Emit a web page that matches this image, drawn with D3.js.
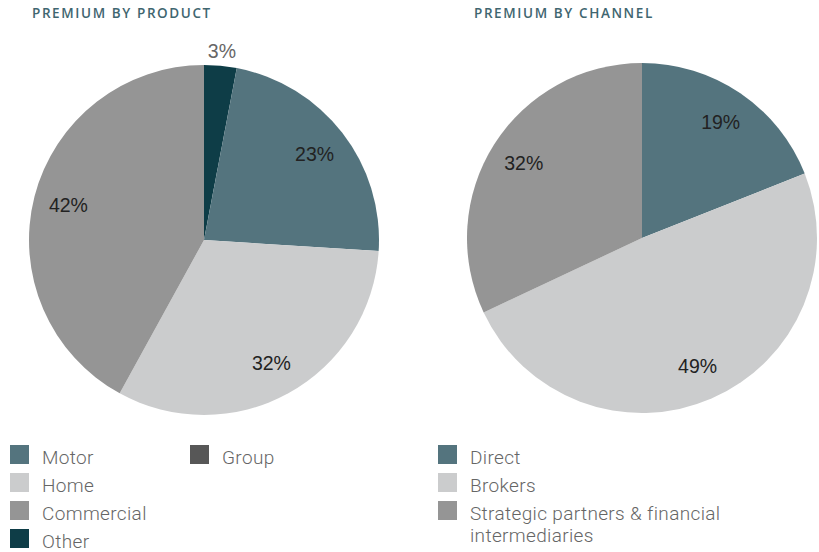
<!DOCTYPE html>
<html>
<head>
<meta charset="utf-8">
<script src="https://cdn.jsdelivr.net/npm/d3@7"></script>
<style>
  body { margin: 0; background: #fff; }
  .title { font-family: "Open Sans", sans-serif; font-weight: 600; font-size: 13.5px; letter-spacing: 1.6px; fill: #3f6670; }
  .pct { font-family: "Liberation Sans", Arial, sans-serif; font-size: 19.5px; fill: #222; }
  .leg { font-family: Roboto, sans-serif; font-weight: 300; font-size: 19px; letter-spacing: 0.35px; fill: #666; }
</style>
</head>
<body>
<svg id="chart" width="819" height="552"></svg>
<script>
// pie slices, clockwise from 12 o'clock
const productNames = ["Other", "Motor", "Home", "Commercial"];
const productValues = [3, 23, 32, 42];
const channelNames = ["Direct", "Brokers", "Strategic partners & financial intermediaries"];
const channelValues = [19, 49, 32];

// legend entries
const productLegend = ["Motor", "Home", "Commercial", "Other", "Group"];
const channelLegend = ["Direct", "Brokers", "Strategic partners & financial intermediaries"];

const colors = {
  "Motor": "#54747e",
  "Home": "#cbcccd",
  "Commercial": "#959595",
  "Other": "#0e3d47",
  "Group": "#575757",
  "Direct": "#54747e",
  "Brokers": "#cbcccd",
  "Strategic partners & financial intermediaries": "#959595"
};

const svg = d3.select("#chart");
const radius = 175;

function drawPie(cx, cy, names, values, title, titleX) {
  svg.append("text").attr("class", "title")
    .attr("x", titleX).attr("y", 18).text(title);

  const g = svg.append("g").attr("transform", `translate(${cx},${cy})`);
  const pie = d3.pie().sort(null).value(d => d[1]);
  const data_ready = pie(names.map((n, i) => [n, values[i]]));
  const arc = d3.arc().innerRadius(0).outerRadius(radius);
  const labelArc = d3.arc().innerRadius(140).outerRadius(140);
  const outerArc = d3.arc().innerRadius(190).outerRadius(190);

  g.selectAll("path")
    .data(data_ready)
    .join("path")
    .attr("d", arc)
    .attr("fill", d => colors[d.data[0]]);

  g.selectAll("text.pct")
    .data(data_ready)
    .join("text")
    .attr("class", "pct")
    .attr("text-anchor", "middle")
    .attr("dy", "0.35em")
    .attr("transform", d => {
      const small = d.data[1] < 5;
      const c = small ? outerArc.centroid(d) : labelArc.centroid(d);
      return `translate(${c[0]},${c[1]})`;
    })
    .style("fill", d => d.data[1] < 5 ? "#666" : "#222")
    .text(d => d.data[1] + "%");
}

function drawLegend(items, positions) {
  items.forEach((name, i) => {
    const p = positions[i];
    svg.append("rect")
      .attr("x", p[0]).attr("y", p[1])
      .attr("width", 19).attr("height", 19)
      .attr("fill", colors[name]);
    const t = svg.append("text").attr("class", "leg")
      .attr("x", p[0] + 32).attr("y", p[1] + 19);
    const words = name === "Strategic partners & financial intermediaries"
      ? ["Strategic partners & financial", "intermediaries"] : [name];
    words.forEach((w, j) => {
      t.append("tspan").attr("x", p[0] + 32).attr("dy", j === 0 ? 0 : 22).text(w);
    });
  });
}

drawPie(204, 240, productNames, productValues, "PREMIUM BY PRODUCT", 32);
drawPie(642, 238, channelNames, channelValues, "PREMIUM BY CHANNEL", 474);

drawLegend(productLegend, [[10, 445], [10, 473], [10, 501], [10, 529], [190, 445]]);
drawLegend(channelLegend, [[438, 445], [438, 473], [438, 501]]);
</script>
</body>
</html>
